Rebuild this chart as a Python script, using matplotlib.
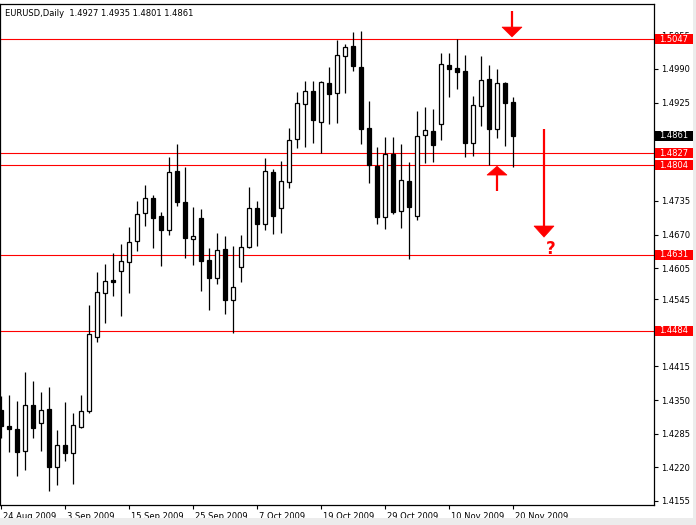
import numpy as np
import matplotlib.pyplot as plt
import matplotlib.transforms as mtransforms
from matplotlib.patches import Polygon, Rectangle
from matplotlib.transforms import blended_transform_factory

# daily EURUSD bars, 24 Aug 2009 .. 20 Nov 2009
opens = [1.4331, 1.4300, 1.4294, 1.4252, 1.4341, 1.4306, 1.4333, 1.4221, 1.4263, 1.4248,
         1.4298, 1.4329, 1.4472, 1.4557, 1.4582, 1.4600, 1.4617, 1.4658, 1.4712, 1.4741,
         1.4706, 1.4679, 1.4793, 1.4733, 1.4661, 1.4702, 1.4621, 1.4586, 1.4642, 1.4543,
         1.4607, 1.4646, 1.4721, 1.4690, 1.4791, 1.4721, 1.4772, 1.4855, 1.4922, 1.4947,
         1.4888, 1.4963, 1.4944, 1.5015, 1.5034, 1.4994, 1.4876, 1.4802, 1.4704, 1.4826,
         1.4715, 1.4773, 1.4706, 1.4862, 1.4870, 1.4884, 1.4998, 1.4992, 1.4986, 1.4847,
         1.4918, 1.4971, 1.4874, 1.4963, 1.4927]
highs = [1.4358, 1.4360, 1.4348, 1.4404, 1.4387, 1.4366, 1.4375, 1.4292, 1.4346, 1.4325,
         1.4360, 1.4534, 1.4598, 1.4613, 1.4634, 1.4652, 1.4685, 1.4735, 1.4766, 1.4746,
         1.4714, 1.4820, 1.4845, 1.4801, 1.4723, 1.4719, 1.4644, 1.4673, 1.4667, 1.4648,
         1.4669, 1.4762, 1.4735, 1.4818, 1.4797, 1.4812, 1.4876, 1.4945, 1.4967, 1.4967,
         1.4967, 1.4994, 1.5046, 1.5038, 1.5061, 1.5063, 1.4928, 1.4839, 1.4859, 1.4859,
         1.4845, 1.4810, 1.4909, 1.4916, 1.4913, 1.5021, 1.5021, 1.5048, 1.5017, 1.4938,
         1.5015, 1.4998, 1.4990, 1.4965, 1.4935]
lows = [1.4277, 1.4250, 1.4203, 1.4215, 1.4277, 1.4252, 1.4174, 1.4186, 1.4232, 1.4188,
        1.4296, 1.4325, 1.4462, 1.4499, 1.4551, 1.4513, 1.4557, 1.4638, 1.4687, 1.4644,
        1.4609, 1.4669, 1.4725, 1.4625, 1.4611, 1.4561, 1.4524, 1.4574, 1.4516, 1.4480,
        1.4578, 1.4644, 1.4648, 1.4679, 1.4671, 1.4673, 1.4760, 1.4837, 1.4839, 1.4847,
        1.4828, 1.4884, 1.4886, 1.4944, 1.4986, 1.4845, 1.4770, 1.4690, 1.4681, 1.4710,
        1.4683, 1.4623, 1.4698, 1.4808, 1.4810, 1.4853, 1.4936, 1.4951, 1.4820, 1.4822,
        1.4880, 1.4804, 1.4857, 1.4841, 1.4801]
closes = [1.4300, 1.4294, 1.4250, 1.4341, 1.4296, 1.4331, 1.4221, 1.4263, 1.4248, 1.4302,
          1.4329, 1.4478, 1.4559, 1.4580, 1.4578, 1.4619, 1.4656, 1.4710, 1.4741, 1.4702,
          1.4679, 1.4791, 1.4733, 1.4663, 1.4667, 1.4619, 1.4586, 1.4640, 1.4543, 1.4569,
          1.4646, 1.4721, 1.4690, 1.4793, 1.4706, 1.4773, 1.4853, 1.4924, 1.4947, 1.4891,
          1.4965, 1.4942, 1.5017, 1.5032, 1.4996, 1.4874, 1.4804, 1.4704, 1.4826, 1.4714,
          1.4775, 1.4723, 1.4860, 1.4872, 1.4843, 1.5000, 1.4990, 1.4984, 1.4847, 1.4920,
          1.4969, 1.4874, 1.4963, 1.4924, 1.4861]

date_labels = ['24 Aug 2009', '3 Sep 2009', '15 Sep 2009', '25 Sep 2009', '7 Oct 2009',
               '19 Oct 2009', '29 Oct 2009', '10 Nov 2009', '20 Nov 2009']
date_ticks = [0, 8, 16, 24, 32, 40, 48, 56, 64]

price_ticks = [1.4155, 1.4220, 1.4285, 1.4350, 1.4415, 1.4545, 1.4605,
               1.4670, 1.4735, 1.4925, 1.4990, 1.5055]
levels = [1.5047, 1.4827, 1.4804, 1.4631, 1.4484]
last_price = 1.4861

W, H = 696, 525
PX_PER_PRICE = 5174.0   # vertical scale of the screenshot
fig = plt.figure(figsize=(W / 100, H / 100), dpi=100)
fig.patch.set_facecolor('white')
ax = fig.add_axes([0 / W, (H - 505) / H, 654 / W, 501 / H])

opens, highs, lows, closes = map(np.array, (opens, highs, lows, closes))
x = np.arange(len(opens))
up = closes > opens

ax.vlines(x, lows, highs, color='black', lw=0.9, zorder=2)
body_lo = np.minimum(opens, closes)
body_h = np.abs(closes - opens)
ax.bar(x, body_h, bottom=body_lo, width=0.5,
       color=np.where(up, 'white', 'black'), edgecolor='black', lw=0.9, zorder=3)

ax.set_xlim(-0.125, 81.625)
ax.set_ylim(1.4155 - 4 / PX_PER_PRICE, 1.4155 + 497 / PX_PER_PRICE)

for lv in levels:
    ax.axhline(lv, color='red', lw=0.8, zorder=1)

# axis styling, MetaTrader look
for s in ax.spines.values():
    s.set_linewidth(0.9)
    s.set_color('black')
ax.yaxis.tick_right()
ax.set_yticks(price_ticks)
ax.set_yticklabels([f"{p:.4f}" for p in price_ticks])
ax.set_xticks(date_ticks)
ax.set_xticklabels(date_labels, ha='left')
ax.tick_params(axis='both', labelsize=6, length=3, width=0.8, color='black', pad=2)

# date labels start just right of their tick
offset = mtransforms.ScaledTranslation(2 / 100, 0, fig.dpi_scale_trans)
for lbl in ax.get_xticklabels():
    lbl.set_transform(lbl.get_transform() + offset)

ax.text(5 / 654, 1 - 9 / 501, "EURUSD,Daily  1.4927 1.4935 1.4801 1.4861",
        transform=ax.transAxes, fontsize=6, ha='left', va='center')

# price boxes on the right scale
trans = blended_transform_factory(ax.transAxes, ax.transData)
box_h = 10 / PX_PER_PRICE
for lv, fc in [(l, 'red') for l in levels] + [(last_price, 'black')]:
    ax.add_patch(Rectangle((1 + 1 / 654, lv - box_h / 2), 38 / 654, box_h,
                           transform=trans, facecolor=fc, edgecolor='none',
                           clip_on=False, zorder=5))
    ax.text(1 + 20 / 654, lv, f"{lv:.4f}", transform=trans, color='white',
            fontsize=6, ha='center', va='center', clip_on=False, zorder=6)

# arrows
bar = 1 / 8.0            # one pixel in bars


def arrow(xc, y_tail, y_base, y_tip, half=10):
    ax.plot([xc, xc], [y_tail, y_base], color='red', lw=1.6, solid_capstyle='butt', zorder=7)
    ax.add_patch(Polygon([[xc - half * bar, y_base], [xc + half * bar, y_base], [xc, y_tip]],
                         closed=True, facecolor='red', edgecolor='red', lw=0.5, zorder=7))


arrow(63.875, 1.5102, 1.5071, 1.5052)
arrow(62.0, 1.4754, 1.4785, 1.4802)
arrow(67.875, 1.4874, 1.46865, 1.4665)
ax.text(68.75, 1.4642, "?", color='red', fontsize=12, fontweight='bold',
        ha='center', va='center', zorder=7)

# grey window border of the screenshot
fig.add_artist(Rectangle((0, 0), 1, 7 / H, transform=fig.transFigure,
                         facecolor='#ececec', edgecolor='none'))
fig.add_artist(Rectangle((1 - 3 / W, 0), 3 / W, 1, transform=fig.transFigure,
                         facecolor='#ececec', edgecolor='none'))

fig.savefig('out.png', dpi=100, facecolor=fig.get_facecolor())
